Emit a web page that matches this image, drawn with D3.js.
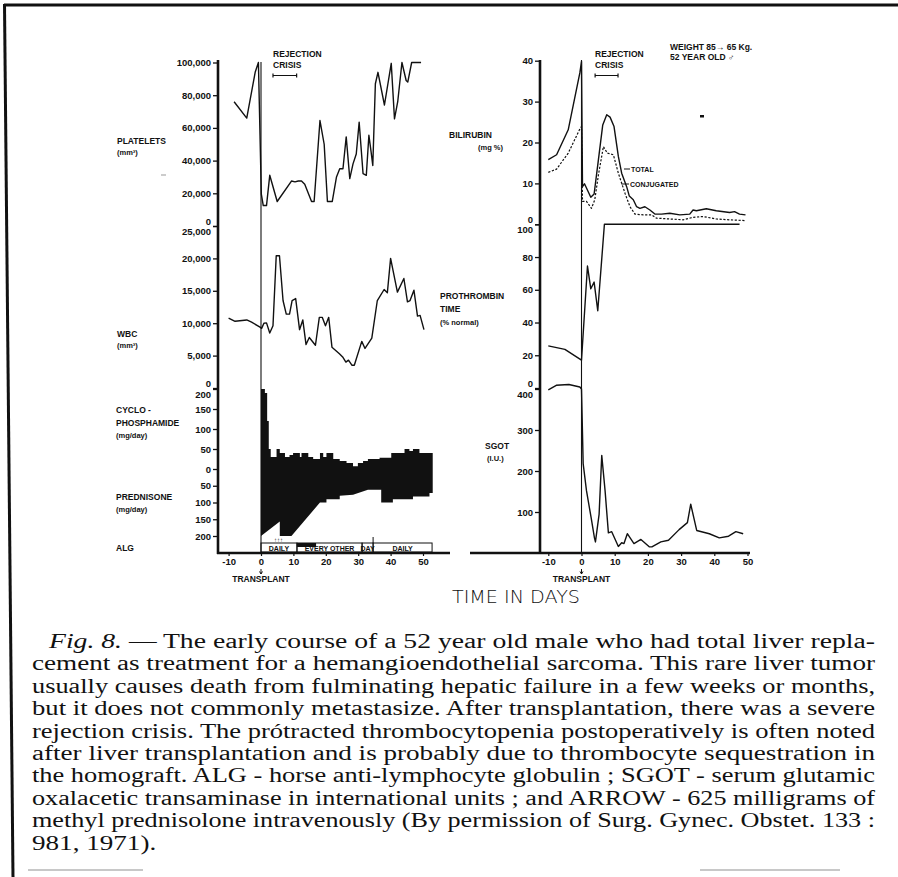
<!DOCTYPE html>
<html>
<head>
<meta charset="utf-8">
<script src="https://cdn.jsdelivr.net/npm/d3@7"></script>
<style>
body { margin: 0; background: #fff; }
svg { display: block; }
</style>
</head>
<body>
<script>
'use strict'

// ---- data (days after transplant) ----

const dayTicks = [-10, 0, 10, 20, 30, 40, 50]

const plateletTicks = [0, 20000, 40000, 60000, 80000, 100000]
const plateletDays = [-8.3, -4.4, -1.8, -0.8, 0.1, 0.7, 1.7, 2.7, 5, 9.4, 10.5, 11.5, 12.5, 13.5, 15.6, 16.4, 18.2, 19.5, 20.5, 22, 23.3, 24.3, 25.3, 26.3, 27.4, 28.4, 29.4, 30.3, 31.5, 32.5, 33.3, 34, 34.5, 35.3, 36.1, 38.1, 40.2, 41.2, 42.2, 43.5, 44.8, 45.3, 46.5, 49.4]
const plateletCounts = [76000, 66000, 94000, 100000, 19500, 12500, 12500, 31000, 15000, 27500, 27000, 27500, 27500, 25500, 15000, 15000, 64500, 50000, 15000, 15000, 30000, 35000, 35000, 54500, 29000, 38000, 44000, 63500, 32000, 31000, 55500, 45000, 37000, 87000, 94000, 74000, 99500, 65500, 76000, 100000, 89000, 88000, 100000, 100000]

const wbcTicks = [0, 5000, 10000, 15000, 20000, 25000]
const wbcDays = [-10, -8, -4.4, -2.9, -0.3, 0.2, 0.9, 1.7, 2.7, 3.7, 4.7, 5.7, 6.8, 7.8, 8.8, 9.6, 10.7, 11.9, 12.9, 13.9, 14.9, 16.8, 18, 18.9, 19.9, 20.9, 21.9, 24.2, 25.2, 26.2, 27, 28.1, 28.8, 31.1, 32.1, 34.2, 35.9, 38, 39, 40, 42.1, 44.1, 45.2, 46, 47.2, 48.3, 49.1, 50.3]
const wbcCounts = [10800, 10300, 10500, 10150, 9400, 9200, 10000, 10050, 8500, 9600, 20400, 20400, 13500, 11400, 11400, 13500, 13800, 9000, 10500, 6700, 7800, 6600, 10900, 10900, 9600, 10900, 6300, 5300, 4800, 4000, 4300, 3500, 3500, 7200, 6100, 7700, 13500, 15200, 14700, 20000, 14800, 16900, 13300, 13500, 15100, 11100, 11200, 9000]

const cycloTicks = [0, 50, 100, 150, 200]
const cycloDays = [0, 1.2, 1.9, 2.4, 3, 4.8, 5.8, 7.4, 8.8, 9.9, 12, 12.5, 14.6, 16.1, 18.2, 19.2, 20.2, 22.3, 24.3, 26.4, 28.4, 29.9, 31.5, 33, 36.6, 40.2, 44.3, 45.8, 46.9, 48.9, 53]
const cycloDoses = [200, 190, 120, 50, 30, 50, 40, 30, 35, 40, 30, 40, 30, 25, 40, 30, 40, 25, 20, 15, 7, 15, 20, 25, 28, 40, 50, 45, 50, 40, 40]

const predTicks = [50, 100, 150, 200]
const predDays = [0, 5.8, 5.8, 9.4, 18.2, 20.2, 20.2, 24.3, 24.3, 28.4, 33, 37.1, 37.1, 40.7, 40.7, 46.9, 46.9, 52, 52, 53]
const predDoses = [200, 157, 200, 200, 100, 100, 90, 90, 80, 77, 62, 62, 100, 100, 90, 90, 82, 82, 72, 72]

const algSegments = [
    { from: 0, to: 11.1, label: 'DAILY' },
    { from: 11.1, to: 31.2, label: 'EVERY OTHER' },
    { from: 31.2, to: 34.6, label: 'DAY' },
    { from: 34.6, to: 52.8, label: 'DAILY' }
]

const bilTicks = [0, 10, 20, 30, 40]
const bilDays = [-10, -7.5, -4, -0.5, 0, 0.3, 0.9, 2.8, 3.8, 5.1, 6.4, 7.6, 8.6, 9.8, 11.1, 12.1, 13.6, 14.4, 15.6, 16.6, 17.6, 19.1, 20.6, 22.1, 24.1, 26.6, 29.6, 32.6, 33.6, 34.6, 37.6, 40.6, 44.6, 46.1, 47.6, 49.4]
const bilTotal = [15.8, 17, 23.1, 37, 39.8, 9.2, 9.9, 6.6, 7.4, 15.8, 24.3, 26.8, 26.2, 23.9, 16.6, 12.5, 9.2, 6.9, 6, 4.3, 3.9, 4.3, 3.5, 2.5, 2.5, 2.7, 2.3, 2.5, 3.5, 3.3, 3.8, 3.3, 2.9, 3.1, 2.5, 2.3]
const conjDays = [-10, -7.5, -4, -0.5, 0, 0.3, 1.5, 3, 4, 5.1, 6.6, 7.8, 9.6, 11.1, 13.1, 14.6, 16.1, 18.6, 21.1, 22.6, 26.6, 30.6, 33.6, 36.6, 40.6, 44.6, 49.4]
const bilConj = [12.7, 13.5, 17.4, 23.3, 23.9, 5.6, 5.6, 3.9, 6, 12.1, 19, 17.4, 17, 12.5, 7.6, 4.3, 2.5, 2.3, 2.3, 1.5, 1.3, 1.1, 1.7, 1.9, 1.3, 1.1, 0.9]

const proTicks = [0, 20, 40, 60, 80, 100]
const proDays = [-10, -5, 0, 1.8, 2.8, 3.8, 4.9, 6.9, 47.6]
const proVals = [25.7, 23.6, 17, 74.5, 60.6, 64.7, 47.2, 100, 100]

const sgotTicks = [100, 200, 300, 400]
const sgotDays = [-10, -7.6, -3.8, -0.5, 0, 0.5, 1.5, 2.9, 3.9, 4.2, 5.3, 6.1, 7.1, 8.1, 9.1, 11.1, 12.1, 12.8, 13.8, 15.8, 17.9, 20.4, 21.2, 23.9, 26.2, 29.4, 31.9, 32.9, 34.7, 38.5, 41.5, 44.3, 46.5, 48.7]
const sgotVals = [398, 409, 411, 405, 400, 218, 152, 86, 37, 27, 94, 238, 152, 49, 52, 16, 25, 23, 47, 23, 33, 15, 15, 27, 31, 57, 74, 119, 55, 47, 37, 41, 52, 47]

const crisisLeft = [3.7, 11]
const crisisRight = [4.1, 11]

const captionLines = [
    'The early course of a 52 year old male who had total liver repla-',
    'cement as treatment for a hemangioendothelial sarcoma. This rare liver tumor',
    'usually causes death from fulminating hepatic failure in a few weeks or months,',
    'but it does not commonly metastasize. After transplantation, there was a severe',
    'rejection crisis. The pr\u00f3tracted thrombocytopenia postoperatively is often noted',
    'after liver transplantation and is probably due to thrombocyte sequestration in',
    'the homograft. ALG - horse anti-lymphocyte globulin ; SGOT - serum glutamic',
    'oxalacetic transaminase in international units ; and ARROW - 625 milligrams of',
    'methyl prednisolone intravenously (By permission of Surg. Gynec. Obstet. 133 :',
    '981, 1971).'
]

// ---- layout ----

const width = 898
const height = 877
const labFont = "'Liberation Sans', Arial, sans-serif"
const ink = '#111'

const svg = d3.select('body').append('svg').attr('width', width).attr('height', height)

// scales
const xL = d3.scaleLinear().domain([-10, 50]).range([228.6, 423])
const yPlt = d3.scaleLinear().domain([0, 100000]).range([226, 62.5])
const yWbc = d3.scaleLinear().domain([0, 25000]).range([388, 226])
const yCyc = d3.scaleLinear().domain([0, 200]).range([469, 389])
const yPred = d3.scaleLinear().domain([0, 200]).range([469, 536])

const xR = d3.scaleLinear().domain([-10, 50]).range([548.3, 747.5])
const yBil = d3.scaleLinear().domain([0, 40]).range([224.3, 60.7])
const yPro = d3.scaleLinear().domain([0, 100]).range([388, 224.3])
const ySgot = d3.scaleLinear().domain([0, 400]).range([553, 389])

// frame of the scanned page
svg.append('line').attr('x1', 4).attr('y1', 5).attr('x2', 898).attr('y2', 5)
    .attr('stroke', ink).attr('stroke-width', 3)
svg.append('line').attr('x1', 4.5).attr('y1', 4).attr('x2', 13).attr('y2', 877)
    .attr('stroke', ink).attr('stroke-width', 3)
svg.append('line').attr('x1', 28).attr('y1', 870).attr('x2', 143).attr('y2', 870)
    .attr('stroke', '#c8c8c8').attr('stroke-width', 2)
svg.append('line').attr('x1', 700).attr('y1', 870).attr('x2', 840).attr('y2', 870)
    .attr('stroke', '#c8c8c8').attr('stroke-width', 2)

function label(x, y, str, size = 8.5, anchor = 'start') {
    return svg.append('text').attr('x', x).attr('y', y).text(str)
        .attr('font-family', labFont).attr('font-weight', 'bold')
        .attr('font-size', size).attr('fill', ink).attr('text-anchor', anchor)
}

function yAxis(scale, ticks, x, shifts = {}) {
    const g = svg.append('g').attr('transform', `translate(${x},0)`)
        .call(d3.axisLeft(scale).tickValues(ticks).tickSize(5).tickPadding(2).tickFormat(d3.format(',')))
    g.select('.domain').remove()
    g.attr('font-family', labFont).attr('font-size', 9.5).attr('font-weight', 'bold')
    g.selectAll('.tick line').attr('stroke', ink).attr('stroke-width', 1.3)
    g.selectAll('.tick text').attr('fill', ink)
        .attr('transform', d => shifts[d] ? `translate(0,${shifts[d]})` : null)
    return g
}

function xAxis(scale, y) {
    const g = svg.append('g').attr('transform', `translate(0,${y})`)
        .call(d3.axisBottom(scale).tickValues(dayTicks).tickSize(3).tickPadding(2).tickFormat(d => String(d)))
    g.select('.domain').remove()
    g.attr('font-family', labFont).attr('font-size', 9.5).attr('font-weight', 'bold')
    g.selectAll('.tick line').attr('stroke', ink).attr('stroke-width', 1.2)
    g.selectAll('.tick text').attr('fill', ink)
    return g
}

function series(xs, days, vals, y, dash) {
    const line = d3.line().x(d => xs(d[0])).y(d => y(d[1]))
    return svg.append('path').datum(d3.zip(days, vals)).attr('d', line)
        .attr('fill', 'none').attr('stroke', ink).attr('stroke-width', dash ? 1.2 : 1.4)
        .attr('stroke-linejoin', 'round')
        .attr('stroke-dasharray', dash || null)
}

function crisis(xs, span, x0) {
    label(x0, 57, 'REJECTION', 8.5)
    label(x0, 68, 'CRISIS', 8.5)
    const a = xs(span[0]), b = xs(span[1]), yb = 75.5
    svg.append('path').attr('d', `M${a},${yb}H${b}M${a},${yb - 2}V${yb + 2}M${b},${yb - 2}V${yb + 2}`)
        .attr('stroke', ink).attr('stroke-width', 1.2).attr('fill', 'none')
}

function transplant(xs, top) {
    const x0 = xs(0)
    svg.append('line').attr('x1', x0).attr('x2', x0).attr('y1', top).attr('y2', 553)
        .attr('stroke', ink).attr('stroke-width', 1.1)
    svg.append('path').attr('d', `M${x0},569V574M${x0 - 1.5},571.5L${x0},574L${x0 + 1.5},571.5`)
        .attr('stroke', ink).attr('stroke-width', 1).attr('fill', 'none')
    label(x0, 582, 'TRANSPLANT', 8.5, 'middle')
}

// ---- left chart ----

// cyclophosphamide (up) and prednisone (down) as one black block
svg.append('path').datum(d3.zip(cycloDays, cycloDoses))
    .attr('d', d3.area().x(d => xL(d[0])).y0(yCyc(0)).y1(d => yCyc(d[1])).curve(d3.curveStepAfter))
    .attr('fill', ink)
svg.append('path').datum(d3.zip(predDays, predDoses))
    .attr('d', d3.area().x(d => xL(d[0])).y0(yPred(0)).y1(d => yPred(d[1])))
    .attr('fill', ink)

// ALG schedule box
const algTop = 543, algBot = 552
algSegments.forEach(s => {
    svg.append('rect').attr('x', xL(s.from)).attr('y', algTop)
        .attr('width', xL(s.to) - xL(s.from)).attr('height', algBot - algTop)
        .attr('fill', 'none').attr('stroke', ink).attr('stroke-width', 1)
    label((xL(s.from) + xL(s.to)) / 2, algBot - 1.5, s.label, 7, 'middle')
})
svg.append('rect').attr('x', xL(11.1)).attr('y', algTop).attr('width', xL(17) - xL(11.1)).attr('height', 4)
    .attr('fill', ink)
svg.append('line').attr('x1', xL(34.6)).attr('x2', xL(34.6)).attr('y1', 537).attr('y2', algTop)
    .attr('stroke', ink).attr('stroke-width', 1)
label(xL(5.4), 542, '\u2191\u2191\u2191', 6, 'middle')

series(xL, plateletDays, plateletCounts, yPlt)
series(xL, wbcDays, wbcCounts, yWbc)

yAxis(yPlt, plateletTicks, 218, { 0: -5 })
yAxis(yWbc, wbcTicks, 218, { 25000: 5, 0: -5 })
yAxis(yCyc, cycloTicks, 218, { 200: 5 })
yAxis(yPred, predTicks, 218)
xAxis(xL, 553)

svg.append('line').attr('x1', 218).attr('x2', 218).attr('y1', 60).attr('y2', 554)
    .attr('stroke', ink).attr('stroke-width', 2.6)
svg.append('line').attr('x1', 217).attr('x2', 450).attr('y1', 553).attr('y2', 553)
    .attr('stroke', ink).attr('stroke-width', 2.6)
transplant(xL, 62)
crisis(xL, crisisLeft, 273)

label(117, 144, 'PLATELETS')
label(117, 155, '(mm\u00b3)', 7.5)
label(117, 337, 'WBC')
label(117, 348, '(mm\u00b3)', 7.5)
label(116, 413, 'CYCLO -')
label(116, 426, 'PHOSPHAMIDE')
label(116, 438, '(mg/day)', 7.5)
label(116, 500, 'PREDNISONE')
label(116, 512, '(mg/day)', 7.5)
label(116, 551, 'ALG')

// scan specks
svg.append('rect').attr('x', 161).attr('y', 174.5).attr('width', 5).attr('height', 1).attr('fill', '#999')
svg.append('rect').attr('x', 700).attr('y', 115).attr('width', 4).attr('height', 2.5).attr('fill', ink)

// ---- right chart ----

series(xR, bilDays, bilTotal, yBil)
series(xR, conjDays, bilConj, yBil, '2.2,1.6')
series(xR, proDays, proVals, yPro)
series(xR, sgotDays, sgotVals, ySgot)

yAxis(yBil, bilTicks, 540, { 0: -5 })
yAxis(yPro, proTicks, 540, { 100: 5, 0: -5 })
yAxis(ySgot, sgotTicks, 540, { 400: 5 })
xAxis(xR, 553)

svg.append('line').attr('x1', 540).attr('x2', 540).attr('y1', 60).attr('y2', 554)
    .attr('stroke', ink).attr('stroke-width', 2.6)
svg.append('line').attr('x1', 470).attr('x2', 750).attr('y1', 553).attr('y2', 553)
    .attr('stroke', ink).attr('stroke-width', 2.6)
transplant(xR, 60)
crisis(xR, crisisRight, 595)

// curve labels with short leaders
svg.append('path').attr('d', `M${xR(12.8)},169H630M${xR(12)},184H629`)
    .attr('stroke', ink).attr('stroke-width', 1)
label(631, 171.5, 'TOTAL', 7)
label(630, 186.5, 'CONJUGATED', 7)

label(670, 50, 'WEIGHT  85\u2192 65 Kg.', 8.5)
label(670, 60, '52  YEAR  OLD \u2642', 8.5)

label(449, 138, 'BILIRUBIN')
label(478, 150, '(mg %)', 7.5)
label(440, 299, 'PROTHROMBIN')
label(440, 312, 'TIME')
label(440, 325, '(% normal)', 7.5)
label(485, 449, 'SGOT')
label(487, 461, '(I.U.)', 7.5)

svg.append('text').attr('x', 452).attr('y', 603).text('TIME  IN  DAYS')
    .attr('font-family', "'DejaVu Sans', sans-serif").attr('font-weight', 300)
    .attr('font-size', 18.5).attr('fill', ink)
    .attr('textLength', 128).attr('lengthAdjust', 'spacingAndGlyphs')

// ---- caption, justified between the margins ----

const capLeft = 32
const capRight = 875
const capTop = 648
const capStep = 22.4
const cap = svg.append('g').attr('font-family', "'Liberation Serif', 'Times New Roman', serif")
    .attr('font-size', 20.5).attr('fill', ink)

let stretch = 1
captionLines.forEach((str, i) => {
    const t = cap.append('text').attr('x', i === 0 ? capLeft + 17 : capLeft).attr('y', capTop + i * capStep)
    if (i === 0) {
        t.append('tspan').attr('font-style', 'italic').text('Fig. 8.')
        t.append('tspan').text(' \u2014 ' + str)
    } else {
        t.text(str)
    }
    const natural = t.node().getComputedTextLength()
    const target = i === captionLines.length - 1 ? natural * stretch : capRight - (i === 0 ? capLeft + 17 : capLeft)
    if (i === 1) stretch = target / natural
    t.attr('textLength', target).attr('lengthAdjust', 'spacingAndGlyphs')
})
</script>
</body>
</html>
